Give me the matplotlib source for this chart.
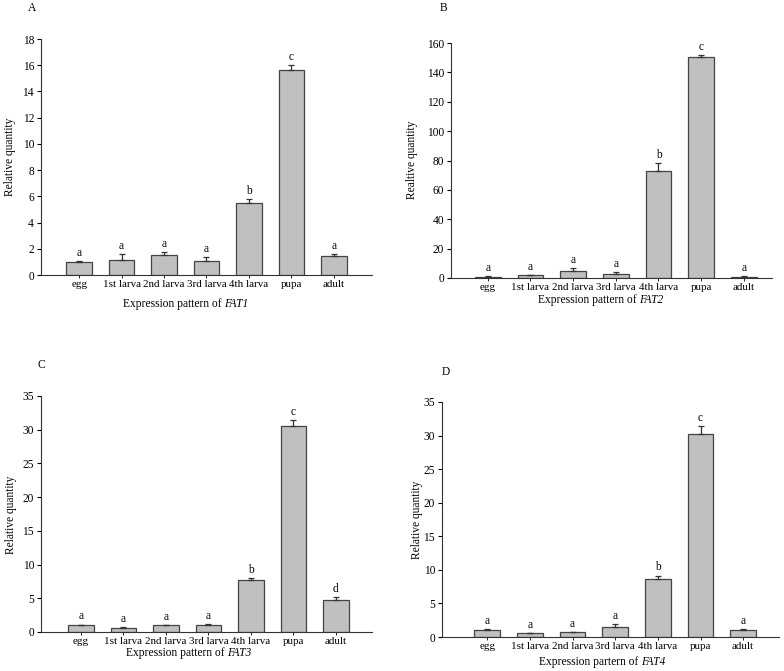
import matplotlib
matplotlib.use('Agg')
import matplotlib.pyplot as plt
from matplotlib.offsetbox import TextArea, HPacker, AnnotationBbox
import numpy as np

plt.rcParams['font.family'] = 'Liberation Serif'

stages = ['egg', '1st larva', '2nd larva', '3rd larva', '4th larva', 'pupa', 'adult']

# Panel A - FAT1
fat1_mean = [1.0, 1.15, 1.55, 1.05, 5.5, 15.6, 1.45]
fat1_err = [0.07, 0.45, 0.22, 0.3, 0.3, 0.4, 0.15]
fat1_sig = ['a', 'a', 'a', 'a', 'b', 'c', 'a']

# Panel B - FAT2
fat2_mean = [1.0, 1.8, 4.5, 2.7, 73.0, 150.5, 1.0]
fat2_err = [0.4, 0.5, 2.1, 1.6, 5.0, 1.0, 0.5]
fat2_sig = ['a', 'a', 'a', 'a', 'b', 'c', 'a']

# Panel C - FAT3
fat3_mean = [1.0, 0.65, 1.0, 1.1, 7.7, 30.6, 4.7]
fat3_err = [0.1, 0.15, 0.05, 0.1, 0.35, 0.8, 0.45]
fat3_sig = ['a', 'a', 'a', 'a', 'b', 'c', 'd']

# Panel D - FAT4
fat4_mean = [1.0, 0.55, 0.7, 1.5, 8.7, 30.25, 1.0]
fat4_err = [0.25, 0.1, 0.1, 0.4, 0.45, 1.2, 0.2]
fat4_sig = ['a', 'a', 'a', 'a', 'b', 'c', 'a']

W, H = 784, 671
fig = plt.figure(figsize=(W / 100, H / 100), dpi=100)

panels = [
    # data, err, letters, ymax, ystep, box(l, r, top, bottom px), xlim, ylabel,
    # xlabel text, gene, letter, xlabel pos, ylabel pos, letter pos
    (fat1_mean, fat1_err, fat1_sig, 18, 2, (41, 372, 39, 275), (-0.9, 6.9),
     'Relative quantity', 'Expression pattern of', 'FAT1', 'A', (186, 304), (10, 157), (32, 8)),
    (fat2_mean, fat2_err, fat2_sig, 160, 20, (451, 772, 43, 278), (-0.86, 6.66),
     'Realtive quantity', 'Expression pattern of', 'FAT2', 'B', (601, 300), (412, 160), (443, 8)),
    (fat3_mean, fat3_err, fat3_sig, 35, 5, (41, 372, 396, 632), (-0.94, 6.85),
     'Relative quantity', 'Expression pattern of', 'FAT3', 'C', (189, 653), (11, 515), (41, 365)),
    (fat4_mean, fat4_err, fat4_sig, 35, 5, (442, 779, 402, 637), (-1.06, 6.84),
     'Relative quantity', 'Expression partern of', 'FAT4', 'D', (602, 662), (417, 520), (446, 372)),
]

fs = 8.3
x = np.arange(len(stages))
for (mean, err, sig, ymax, ystep, box, xlim, ylab, xlab, gene, letter, xlp, ylp, lp) in panels:
    l, r, t, b = box
    ax = fig.add_axes([l / W, 1 - b / H, (r - l) / W, (b - t) / H])
    ax.bar(x, mean, width=0.6, color='#c0c0c0', edgecolor='#444444', linewidth=0.9, zorder=2)
    ax.errorbar(x, mean, yerr=[np.zeros(len(mean)), err], fmt='none', ecolor='#333333',
                elinewidth=0.9, capsize=2.5, capthick=0.9, zorder=3)
    for xi, m, e, s in zip(x, mean, err, sig):
        ax.annotate(s, (xi, m + e), xytext=(0, 1.5), textcoords='offset points',
                    ha='center', va='bottom', fontsize=fs)
    ax.set_xlim(*xlim)
    ax.set_ylim(0, ymax)
    ax.set_yticks(np.arange(0, ymax + 0.1, ystep))
    ax.set_xticks(x)
    ax.set_xticklabels(stages)
    ax.tick_params(axis='y', direction='out', length=3, width=0.8, labelsize=fs, pad=2)
    ax.tick_params(axis='x', direction='out', length=2, width=0.6, labelsize=7.9, pad=1.5)
    for sp in ['top', 'right']:
        ax.spines[sp].set_visible(False)
    for sp in ['left', 'bottom']:
        ax.spines[sp].set_linewidth(0.8)
        ax.spines[sp].set_color('#333333')
    # x label with italic gene name
    label = HPacker(children=[TextArea(xlab, textprops=dict(fontsize=fs)),
                              TextArea(gene, textprops=dict(fontsize=fs, style='italic'))],
                    align='baseline', pad=0, sep=1.6)
    fig.add_artist(AnnotationBbox(label, (xlp[0] / W, 1 - xlp[1] / H), xycoords='figure fraction',
                                  frameon=False, box_alignment=(0.5, 0.5), pad=0))
    fig.text(ylp[0] / W, 1 - ylp[1] / H, ylab, ha='center', va='center', rotation=90, fontsize=fs)
    fig.text(lp[0] / W, 1 - lp[1] / H, letter, ha='center', va='center', fontsize=fs)

fig.savefig('out.png', dpi=100)
